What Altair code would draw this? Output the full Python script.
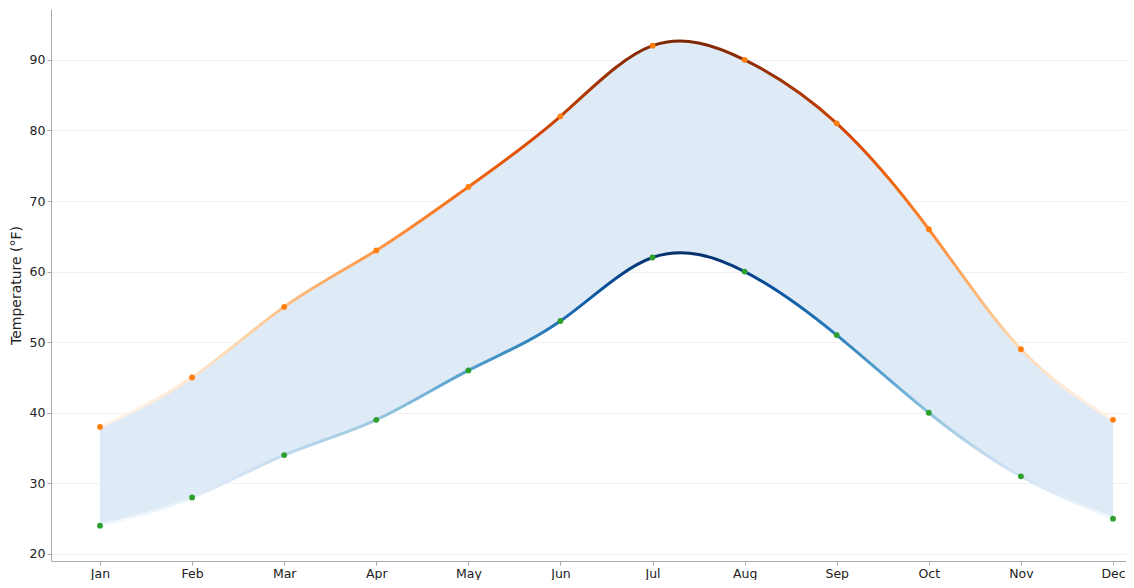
import altair as alt
import pandas as pd

months = ["Jan", "Feb", "Mar", "Apr", "May", "Jun", "Jul", "Aug", "Sep", "Oct", "Nov", "Dec"]
highs = [38, 45, 55, 63, 72, 82, 92, 90, 81, 66, 49, 39]
lows = [24, 28, 34, 39, 46, 53, 62, 60, 51, 40, 31, 25]

df = pd.DataFrame({"idx": list(range(len(months))), "month": months, "high": highs, "low": lows})

oranges = ["#fff5eb", "#fee6ce", "#fdd0a2", "#fdae6b", "#fd8d3c", "#f16913", "#d94801", "#a63603", "#7f2704"]
blues = ["#f7fbff", "#deebf7", "#c6dbef", "#9ecae1", "#6baed6", "#4292c6", "#2171b5", "#08519c", "#08306b"]


def grad(colors):
    n = len(colors) - 1
    return alt.Gradient(
        gradient="linear",
        stops=[alt.GradientStop(offset=i / n, color=c) for i, c in enumerate(colors)],
        x1=0, x2=0, y1=1, y2=0,
    )


label_expr = "[" + ",".join("'%s'" % m for m in months) + "][datum.value]"

x_enc = alt.X(
    "idx:Q",
    scale=alt.Scale(domain=[-0.532, 11.141], nice=False, zero=False),
    axis=alt.Axis(values=list(range(12)), labelExpr=label_expr, title=None, grid=False),
)
y_scale = alt.Scale(domain=[19, 97.2], nice=False, zero=False)

base = alt.Chart(df)

area = base.mark_area(interpolate="natural", color="#deebf7", opacity=1).encode(
    x=x_enc,
    y=alt.Y("low:Q", scale=y_scale,
            axis=alt.Axis(values=[20, 30, 40, 50, 60, 70, 80, 90], title="Temperature (°F)", grid=True)),
    y2="high:Q",
)

high_line = base.mark_line(interpolate="natural", strokeWidth=3, stroke=grad(oranges)).encode(
    x=x_enc, y=alt.Y("high:Q", scale=y_scale)
)
low_line = base.mark_line(interpolate="natural", strokeWidth=3, stroke=grad(blues)).encode(
    x=x_enc, y=alt.Y("low:Q", scale=y_scale)
)

high_pts = base.mark_circle(size=34, color="#ff7f0e", opacity=1).encode(
    x=x_enc, y=alt.Y("high:Q", scale=y_scale)
)
low_pts = base.mark_circle(size=34, color="#2ca02c", opacity=1).encode(
    x=x_enc, y=alt.Y("low:Q", scale=y_scale)
)

chart = (
    alt.layer(area, high_line, low_line, high_pts, low_pts)
    .properties(
        width=1075,
        height=552,
        autosize=alt.AutoSizeParams(type="none"),
        padding={"left": 43, "top": 1, "right": 0, "bottom": 19},
    )
    .configure_view(stroke=None)
    .configure_axis(
        labelFont="DejaVu Sans",
        titleFont="DejaVu Sans",
        labelFontSize=12.5,
        titleFontSize=14,
        titleFontWeight="normal",
        labelColor="#222222",
        titleColor="#222222",
        domainColor="#aaaaaa",
        tickColor="#aaaaaa",
        tickSize=4,
        labelPadding=2,
        gridColor="#f0f0f0",
        gridWidth=1,
    )
    .configure_axisY(titlePadding=6)
)

chart.save("out.html", embed_options={"renderer": "svg", "actions": False})
